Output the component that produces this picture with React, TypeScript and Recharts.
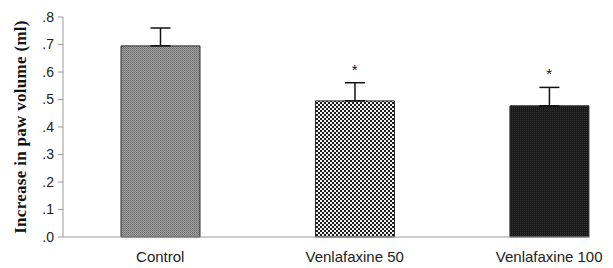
import React from 'react'
import {
  ComposedChart,
  Bar,
  Scatter,
  ErrorBar,
  XAxis,
  YAxis,
  Cell,
} from 'recharts'

const groups = ['Control', 'Venlafaxine 50', 'Venlafaxine 100']
const means = [0.695, 0.495, 0.477]
const sems = [0.065, 0.066, 0.067]
const significant = [false, true, true]
const yTicks = [0, 0.1, 0.2, 0.3, 0.4, 0.5, 0.6, 0.7, 0.8]

const fills = ['url(#dotGray)', 'url(#checker)', 'url(#darkFine)']

const data = groups.map((g, i) => ({
  pos: i + 0.5,
  name: g,
  mean: means[i],
  err: [0, sems[i]],
  star: significant[i] ? means[i] + sems[i] : null,
}))

const axisGray = '#9a9a9a'
const sans = 'Liberation Sans, Arial, sans-serif'

const StarMark = (props: any) => {
  const { cx, cy } = props
  if (cy == null || isNaN(cy)) return null
  return (
    <text x={cx} y={cy - 8} textAnchor="middle" fontFamily={sans} fontSize={15} fill="#111">
      *
    </text>
  )
}

export default function App() {
  return (
    <div style={{ position: 'absolute', left: 0, top: 0, background: '#fff' }}>
      <ComposedChart
        width={613}
        height={268}
        data={data}
        margin={{ top: 17, right: 23, bottom: 0, left: 0 }}
      >
        <defs>
          <pattern id="dotGray" width="2" height="2" patternUnits="userSpaceOnUse">
            <rect width="2" height="2" fill="#a0a0a0" />
            <rect width="1" height="1" fill="#6c6c6c" />
            <rect x="1" y="1" width="1" height="1" fill="#7c7c7c" />
          </pattern>
          <pattern id="checker" width="4" height="4" patternUnits="userSpaceOnUse">
            <rect width="4" height="4" fill="#1c1c1c" />
            <rect width="2" height="2" fill="#f2f2f2" />
            <rect x="2" y="2" width="2" height="2" fill="#f2f2f2" />
          </pattern>
          <pattern id="darkFine" width="2" height="2" patternUnits="userSpaceOnUse">
            <rect width="2" height="2" fill="#1a1a1a" />
            <rect width="1" height="1" fill="#333" />
          </pattern>
        </defs>
        <XAxis
          dataKey="pos"
          type="number"
          domain={[0, 2.71]}
          ticks={[0.5, 1.5, 2.5]}
          tickFormatter={(v: number) => groups[Math.floor(v)]}
          tickLine={false}
          tickSize={0}
          tickMargin={14}
          height={31}
          stroke={axisGray}
          tick={{ fontFamily: sans, fontSize: 15, fill: '#222' }}
          allowDataOverflow
        />
        <YAxis
          domain={[0, 0.8]}
          ticks={yTicks}
          tickFormatter={(v: number) => '.' + Math.round(v * 10)}
          width={63}
          tickSize={5}
          tickMargin={4}
          stroke={axisGray}
          tick={{ fontFamily: sans, fontSize: 14, fill: '#222' }}
          label={{
            value: 'Increase in paw volume (ml)',
            angle: -90,
            position: 'insideLeft',
            offset: 0,
            dx: 20,
            style: {
              fontFamily: 'Liberation Serif, Times New Roman, serif',
              fontWeight: 'bold',
              fontSize: 17,
              letterSpacing: 0.3,
              fill: '#111',
              textAnchor: 'middle',
            },
          }}
        />
        <Bar dataKey="mean" barSize={79} stroke="#2a2a2a" strokeWidth={1} isAnimationActive={false}>
          {data.map((d, i) => (
            <Cell key={d.name} fill={fills[i]} />
          ))}
          <ErrorBar dataKey="err" width={10} stroke="#111" strokeWidth={1.5} direction="y" />
        </Bar>
        <Scatter dataKey="star" shape={<StarMark />} isAnimationActive={false} />
      </ComposedChart>
    </div>
  )
}
